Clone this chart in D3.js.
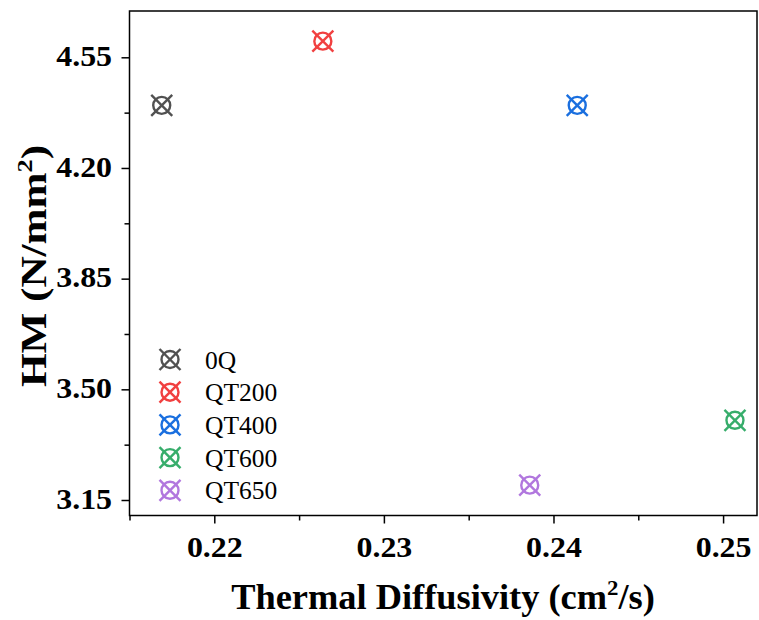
<!DOCTYPE html>
<html><head><meta charset="utf-8">
<script src="https://cdn.jsdelivr.net/npm/d3@7"></script>
<style>body{margin:0;background:#fff}svg{display:block}</style>
</head><body>
<svg id="c" width="759" height="620"></svg>
<script>
const names = ["0Q","QT200","QT400","QT600","QT650"];
const diffusivity = [0.2169, 0.2264, 0.2414, 0.2507, 0.2386];
const hm = [4.398, 4.601, 4.398, 3.402, 3.197];
const colors = ["#515151","#F14040","#1A6FDF","#37AD6B","#B177DE"];
const xTicks = [0.22, 0.23, 0.24, 0.25];
const xMinor = [0.215, 0.225, 0.235, 0.245];
const yTicks = [3.15, 3.50, 3.85, 4.20, 4.55];
const yMinor = [3.325, 3.675, 4.025, 4.375];

const svg = d3.select("#c");
const L=129.5, R=757, T=11, B=515.5;
const x = d3.scaleLinear().domain([0.215, 0.252]).range([L, R]);
const y = d3.scaleLinear().domain([3.15, 4.55]).range([500, 57.3]);
const font = "'Liberation Serif','Times New Roman',serif";

// frame
svg.append("rect").attr("x",L).attr("y",T).attr("width",R-L).attr("height",B-T)
  .attr("fill","none").attr("stroke","#000").attr("stroke-width",1.5);

// x axis
const xa = svg.append("g").attr("transform",`translate(0,${B})`)
  .call(d3.axisBottom(x).tickValues(xTicks).tickFormat(d3.format(".2f")).tickSize(8).tickSizeOuter(0));
xa.select(".domain").remove();
xa.selectAll("line").attr("stroke-width",1.5);
xa.selectAll("text").attr("font-family",font).attr("font-weight","bold").attr("font-size",29)
  .attr("y",41.5).attr("dy",0).attr("transform","scale(1.1,1)").attr("fill","#000");
svg.append("g").attr("transform",`translate(0,${B})`)
  .call(d3.axisBottom(x).tickValues(xMinor).tickFormat("").tickSize(5).tickSizeOuter(0))
  .call(g=>g.select(".domain").remove()).selectAll("line").attr("stroke-width",1.5);

// y axis
const ya = svg.append("g").attr("transform",`translate(${L},0)`)
  .call(d3.axisLeft(y).tickValues(yTicks).tickFormat(d3.format(".2f")).tickSize(8).tickSizeOuter(0));
ya.select(".domain").remove();
ya.selectAll("line").attr("stroke-width",1.5);
ya.selectAll("text").attr("font-family",font).attr("font-weight","bold").attr("font-size",29)
  .attr("x",-15.9).attr("dy","0.28em").attr("transform","scale(1.1,1)").attr("fill","#000");
svg.append("g").attr("transform",`translate(${L},0)`)
  .call(d3.axisLeft(y).tickValues(yMinor).tickFormat("").tickSize(5).tickSizeOuter(0))
  .call(g=>g.select(".domain").remove()).selectAll("line").attr("stroke-width",1.5);

// labels
const xl = svg.append("text").attr("transform","translate(443,609) scale(1.04,1)").attr("text-anchor","middle")
  .attr("font-family",font).attr("font-weight","bold").attr("font-size",35);
xl.append("tspan").text("Thermal Diffusivity (cm");
xl.append("tspan").text("2").attr("font-size",22).attr("dy",-14);
xl.append("tspan").text("/s)").attr("dy",14);

const yl = svg.append("text").attr("transform","translate(46,266) rotate(-90) scale(1.2,1)").attr("text-anchor","middle")
  .attr("font-family",font).attr("font-weight","bold").attr("font-size",36);
yl.append("tspan").text("HM (N/mm");
yl.append("tspan").text("2").attr("font-size",22).attr("dy",-14);
yl.append("tspan").text(")").attr("dy",14);

function marker(g, cx, cy, col){
  const r=8.5, s=10.5;
  g.append("circle").attr("cx",cx).attr("cy",cy).attr("r",r).attr("fill","none").attr("stroke",col).attr("stroke-width",2.4);
  g.append("line").attr("x1",cx-s).attr("y1",cy-s).attr("x2",cx+s).attr("y2",cy+s).attr("stroke",col).attr("stroke-width",2.4);
  g.append("line").attr("x1",cx-s).attr("y1",cy+s).attr("x2",cx+s).attr("y2",cy-s).attr("stroke",col).attr("stroke-width",2.4);
}
const pts = svg.append("g");
names.forEach((n,i)=>marker(pts, x(diffusivity[i]), y(hm[i]), colors[i]));

// legend
const lg = svg.append("g");
names.forEach((n,i)=>{
  const yy = 359.5 + i*32.7;
  marker(lg, 170, yy, colors[i]);
  lg.append("text").attr("x",205).attr("y",yy+9).text(n)
    .attr("font-family",font).attr("font-size",25.5).attr("fill","#000");
});
</script>
</body></html>
